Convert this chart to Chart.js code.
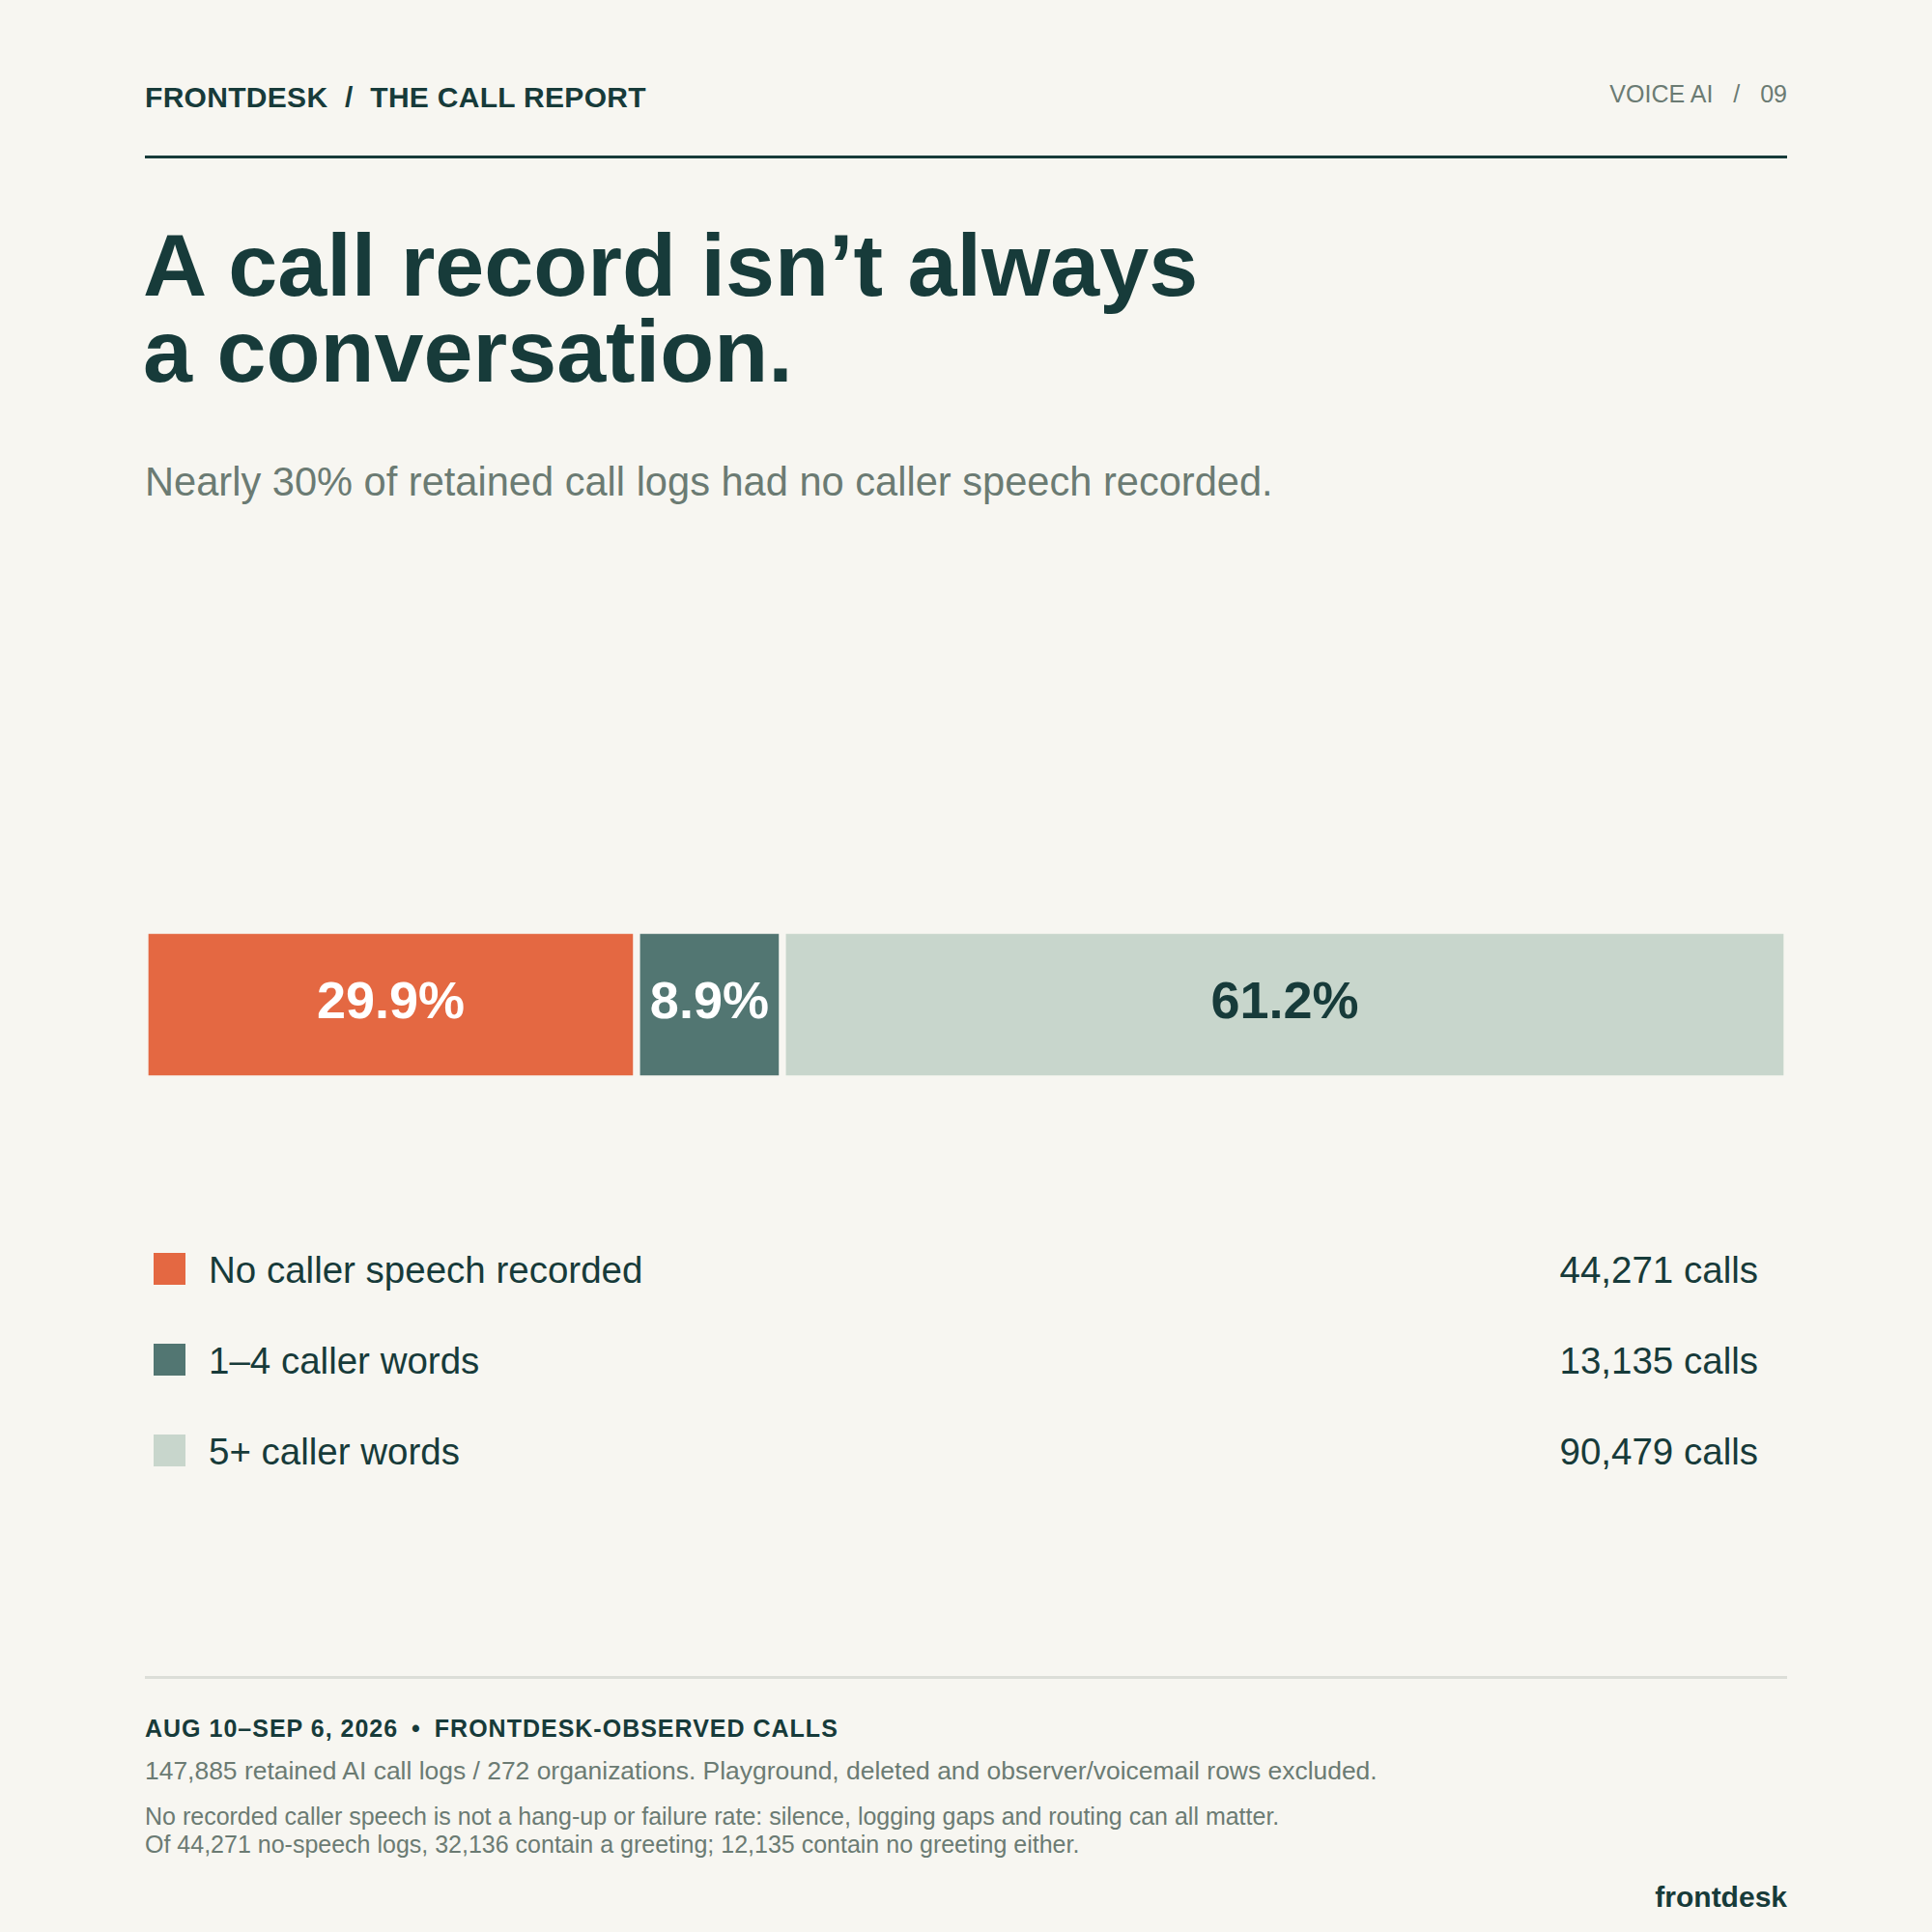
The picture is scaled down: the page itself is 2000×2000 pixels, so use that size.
<!DOCTYPE html>
<html>
<head>
<meta charset="utf-8">
<script src="https://cdn.jsdelivr.net/npm/chart.js@4.4.1/dist/chart.umd.min.js"></script>
<style>
  html,body{margin:0;padding:0;background:#f7f6f1;}
  body{width:2000px;height:2000px;position:relative;overflow:hidden;font-family:"Liberation Sans",Arial,sans-serif;color:#173b3a;}
  .abs{position:absolute;white-space:nowrap;line-height:1;}
  .rule{position:absolute;left:150px;width:1700px;}
  .row{position:absolute;left:0;width:2000px;height:40px;}
  .sw{position:absolute;left:159px;top:1px;width:33px;height:33px;}
  .lab{position:absolute;left:216px;top:0;font-size:38.5px;line-height:1;}
  .val{position:absolute;right:180px;top:0;font-size:38.5px;line-height:1;}
</style>
</head>
<body>
<div class="abs" style="left:150px;top:86px;font-size:30px;font-weight:bold;letter-spacing:0.3px;">FRONTDESK <span style="margin:0 9px">/</span> THE CALL REPORT</div>
<div class="abs" style="right:150px;top:85px;font-size:25px;color:#6b7b73;">VOICE AI <span style="margin:0 14px">/</span> 09</div>
<div class="rule" style="top:161px;height:3px;background:#173b3a;"></div>

<div class="abs" style="left:148px;top:230px;font-size:91.7px;font-weight:bold;line-height:89px;">A call record isn’t always<br>a conversation.</div>
<div class="abs" style="left:150px;top:478px;font-size:41.6px;color:#6b7b73;">Nearly 30% of retained call logs had no caller speech recorded.</div>

<canvas id="bar" width="1700" height="200" style="position:absolute;left:150px;top:940px;width:1700px;height:200px;"></canvas>

<div id="legend"></div>

<div class="rule" style="top:1735px;height:3px;background:#dcded8;"></div>
<div class="abs" style="left:150px;top:1777px;font-size:25px;font-weight:bold;letter-spacing:1px;">AUG 10–SEP 6, 2026 <span style="margin:0 6px">•</span> FRONTDESK-OBSERVED CALLS</div>
<div class="abs" style="left:150px;top:1820px;font-size:26.45px;color:#6b7b73;">147,885 retained AI call logs / 272 organizations. Playground, deleted and observer/voicemail rows excluded.</div>
<div class="abs" style="left:150px;top:1866px;font-size:25px;line-height:29px;color:#6b7b73;">No recorded caller speech is not a hang-up or failure rate: silence, logging gaps and routing can all matter.<br>Of 44,271 no-speech logs, 32,136 contain a greeting; 12,135 contain no greeting either.</div>
<div class="abs" style="right:150px;top:1949px;font-size:30px;font-weight:bold;">frontdesk</div>

<script>
// call buckets, counts
const groups = ['No caller speech recorded', '1–4 caller words', '5+ caller words'];
const calls = [44271, 13135, 90479];
const fills = ['#e46842', '#527672', '#c8d6cc'];
const labelColors = ['#ffffff', '#ffffff', '#173b3a'];
const total = calls.reduce((a, b) => a + b, 0);
const bg = '#f7f6f1';

// legend rows
const legend = document.getElementById('legend');
groups.forEach((g, i) => {
  const row = document.createElement('div');
  row.className = 'row';
  row.style.top = (1296 + i * 94) + 'px';
  row.innerHTML = '<div class="sw" style="background:' + fills[i] + '"></div>' +
    '<div class="lab">' + g + '</div>' +
    '<div class="val">' + calls[i].toLocaleString('en-US') + ' calls</div>';
  legend.appendChild(row);
});

// share labels in the middle of each segment
const shareLabels = {
  id: 'shareLabels',
  afterDatasetsDraw(chart){
    const ctx = chart.ctx;
    ctx.save();
    ctx.font = 'bold 54px "Liberation Sans", Arial, sans-serif';
    ctx.textAlign = 'center';
    ctx.textBaseline = 'alphabetic';
    chart.data.datasets.forEach((ds, i) => {
      const el = chart.getDatasetMeta(i).data[0];
      const pct = (ds.data[0] / total * 100).toFixed(1) + '%';
      ctx.fillStyle = labelColors[i];
      ctx.fillText(pct, (el.x + el.base) / 2, el.y + 14);
    });
    ctx.restore();
  }
};

new Chart(document.getElementById('bar'), {
  type: 'bar',
  data: {
    labels: ['Retained call logs'],
    datasets: groups.map((g, i) => ({
      label: g,
      data: [calls[i]],
      backgroundColor: fills[i],
      borderColor: bg,
      borderWidth: 4,
      borderSkipped: false,
      barThickness: 154
    }))
  },
  options: {
    indexAxis: 'y',
    responsive: false,
    animation: false,
    layout: {padding: 0},
    scales: {
      x: {stacked: true, display: false, min: 0, max: total},
      y: {stacked: true, display: false}
    },
    plugins: {legend: {display: false}, tooltip: {enabled: false}}
  },
  plugins: [shareLabels]
});
</script>
</body>
</html>
